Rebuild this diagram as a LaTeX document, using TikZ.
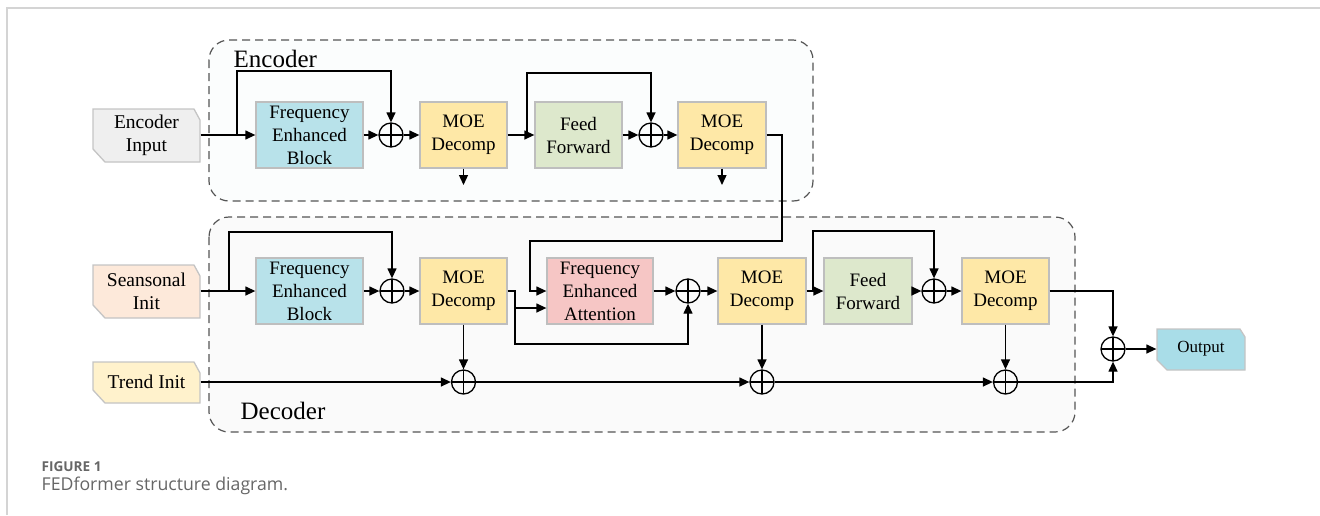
\documentclass[tikz,border=0pt]{standalone}
\usepackage{fontspec}
\setmainfont{Liberation Serif}
\newfontfamily\capfont{Open Sans}
\usetikzlibrary{arrows.meta}

\definecolor{febcol}{HTML}{B8E2EA}
\definecolor{moecol}{HTML}{FEE8A7}
\definecolor{ffcol}{HTML}{DDE8CC}
\definecolor{feacol}{HTML}{F6C6C5}
\definecolor{blkline}{HTML}{BEBEBE}
\definecolor{tagline}{HTML}{C4C4C4}
\definecolor{encincol}{HTML}{EFEFEF}
\definecolor{seacol}{HTML}{FDE9DA}
\definecolor{trendcol}{HTML}{FFF2CC}
\definecolor{outcol}{HTML}{A9DDE8}
\definecolor{dashcol}{HTML}{555555}
\definecolor{encfill}{HTML}{FBFDFD}
\definecolor{decfill}{HTML}{FAFAFA}
\definecolor{framecol}{HTML}{D4D4D4}
\definecolor{capcol}{HTML}{666666}

% tag shape with cut top-right and bottom-left corners:
% x1 y1 x2 y2 (top-right cut w,h) (bottom-left cut w,h) fill
\newcommand\tagshape[9]{%
  \filldraw[draw=tagline, fill=#9, line width=1.3pt]
    (#1,#2) -- (#3-#5,#2) -- (#3,#2+#6) -- (#3,#4) -- (#1+#7,#4) -- (#1,#4-#8) -- cycle;}

\begin{document}
\begin{tikzpicture}[x=1pt,y=-1pt, line width=1.3pt,
  blk/.style={draw=blkline, line width=1.3pt, minimum height=66pt, inner sep=0pt,
    align=center, font=\rmfamily\fontsize{19}{23}\selectfont},
  tagtext/.style={inner sep=0pt, align=center, font=\rmfamily\fontsize{19.5}{23}\selectfont},
  grp/.style={draw=dashcol, dash pattern=on 8pt off 5pt, rounded corners=20pt, line width=1.2pt},
  grplabel/.style={anchor=base west, inner sep=0pt, font=\rmfamily\fontsize{25}{28}\selectfont},
  arr/.style={-{Triangle[length=10pt,width=9pt]}, line width=1.3pt},
  plus/.style={circle, draw, minimum size=24pt, inner sep=0pt, line width=1.3pt,
    path picture={\draw[line width=1.3pt] (path picture bounding box.north) -- (path picture bounding box.south)
      (path picture bounding box.west) -- (path picture bounding box.east);}},
]
\useasboundingbox (0,0) rectangle (1320,515);

% page frame
\draw[framecol, line width=2pt] (7,515) -- (7,8) -- (1320,8);

% group frames
\filldraw[grp, fill=encfill] (209,40) rectangle (813,201);
\filldraw[grp, fill=decfill] (209,217) rectangle (1075,432);
\node[grplabel] (enclab) at (233,67) {Encoder};
\node[grplabel] (declab) at (240,419) {Decoder};

% input and output tags
\tagshape{93}{109}{200}{162}{6}{11}{12}{13}{encincol}
\node[tagtext, minimum width=107pt, minimum height=53pt] (encin) at (146.5,135) {Encoder\\Input};
\tagshape{93}{265}{200}{318}{6}{11}{12}{13}{seacol}
\node[tagtext, minimum width=107pt, minimum height=53pt] (sin) at (146.5,291) {Seansonal\\Init};
\tagshape{93}{362}{200}{403}{6}{11}{12}{13}{trendcol}
\node[tagtext, minimum width=107pt, minimum height=41pt] (tin) at (146.5,382) {Trend Init};
\tagshape{1157}{329}{1245}{370}{5}{8}{10}{10}{outcol}
\node[tagtext, font=\rmfamily\fontsize{17}{20}\selectfont, minimum width=88pt, minimum height=41pt] (out) at (1201,349) {Output};

% encoder blocks
\node[blk, fill=febcol, minimum width=107pt] (feb1) at (309.5,135) {Frequency\\Enhanced\\Block};
\node[plus] (pe1) at (391,135) {};
\node[blk, fill=moecol, minimum width=87pt] (moe1) at (463.5,135) {MOE\\Decomp};
\node[blk, fill=ffcol, minimum width=87pt] (ff1) at (578.5,135) {Feed\\Forward};
\node[plus] (pe2) at (651,135) {};
\node[blk, fill=moecol, minimum width=88pt] (moe2) at (722,135) {MOE\\Decomp};

% decoder blocks
\node[blk, fill=febcol, minimum width=107pt] (feb2) at (309.5,291) {Frequency\\Enhanced\\Block};
\node[plus] (pd1) at (392,291) {};
\node[blk, fill=moecol, minimum width=87pt] (moed1) at (463.5,291) {MOE\\Decomp};
\node[blk, fill=feacol, minimum width=106pt] (fea) at (600,291) {Frequency\\Enhanced\\Attention};
\node[plus] (pd2) at (688,291) {};
\node[blk, fill=moecol, minimum width=88pt] (moed2) at (762,291) {MOE\\Decomp};
\node[blk, fill=ffcol, minimum width=88pt] (ffd) at (868,291) {Feed\\Forward};
\node[plus] (pd3) at (934,291) {};
\node[blk, fill=moecol, minimum width=87pt] (moed3) at (1005.5,291) {MOE\\Decomp};

% trend accumulation and output sum
\node[plus] (pt1) at (463.5,382) {};
\node[plus] (pt2) at (762,382) {};
\node[plus] (pt3) at (1005.5,382) {};
\node[plus] (po) at (1113,349) {};

% routing points
\coordinate (es1) at (237,135);
\coordinate (es1t) at (237,71);
\coordinate (es2) at (527,135);
\coordinate (es2t) at (527,73);
\coordinate (d1) at (463.5,185);
\coordinate (d2) at (722,185);
\coordinate (c1) at (782,135);
\coordinate (c2) at (782,241);
\coordinate (c3) at (530,241);
\coordinate (c4) at (530,291);
\coordinate (ds1) at (229,291);
\coordinate (ds1t) at (229,232);
\coordinate (m1) at (515,291);
\coordinate (m2) at (515,308);
\coordinate (m3) at (515,344);
\coordinate (ds2) at (813,291);
\coordinate (ds2t) at (813,231);

% encoder connectors
\draw[arr] (encin.east) -- (feb1.west);
\draw[arr] (es1) -- (es1t) -| (pe1.north);
\draw[arr] (feb1.east) -- (pe1.west);
\draw[arr] (pe1.east) -- (moe1.west);
\draw[arr] (moe1.east) -- (ff1.west);
\draw[arr] (es2) -- (es2t) -| (pe2.north);
\draw[arr] (ff1.east) -- (pe2.west);
\draw[arr] (pe2.east) -- (moe2.west);
\draw[arr] (moe1.south) -- (d1);
\draw[arr] (moe2.south) -- (d2);
\draw[arr] (moe2.east) -- (c1) -- (c2) -- (c3) -- (c4) -- (fea.west |- c4);

% decoder connectors
\draw[arr] (sin.east) -- (feb2.west);
\draw[arr] (ds1) -- (ds1t) -| (pd1.north);
\draw[arr] (feb2.east) -- (pd1.west);
\draw[arr] (pd1.east) -- (moed1.west);
\draw[arr] (moed1.east) -- (m1) -- (m3) -| (pd2.south);
\draw[arr] (m2) -- (fea.west |- m2);
\draw[arr] (fea.east) -- (pd2.west);
\draw[arr] (pd2.east) -- (moed2.west);
\draw[arr] (moed2.east) -- (ffd.west);
\draw[arr] (ds2) -- (ds2t) -| (pd3.north);
\draw[arr] (ffd.east) -- (pd3.west);
\draw[arr] (pd3.east) -- (moed3.west);
\draw[arr] (moed3.east) -| (po.north);
\draw[arr] (po.east) -- (out.west);

% trend path
\draw[arr] (tin.east) -- (pt1.west);
\draw[arr] (pt1.east) -- (pt2.west);
\draw[arr] (pt2.east) -- (pt3.west);
\draw[arr] (pt3.east) -| (po.south);
\draw[arr] (moed1.south) -- (pt1.north);
\draw[arr] (moed2.south) -- (pt2.north);
\draw[arr] (moed3.south) -- (pt3.north);

% caption
\node[anchor=base west, inner sep=0pt, text=capcol, font=\capfont\bfseries\fontsize{13.6}{15}\selectfont] (fig) at (41,471) {FIGURE 1};
\node[anchor=base west, inner sep=0pt, text=capcol, font=\capfont\fontsize{17.7}{20}\selectfont] (cap) at (41,490) {FEDformer structure diagram.};
\end{tikzpicture}
\end{document}
